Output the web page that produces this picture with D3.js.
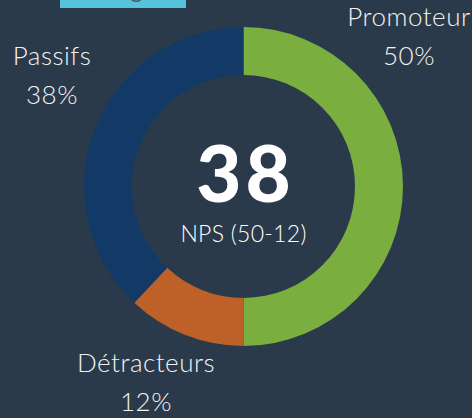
<!DOCTYPE html>
<html lang="en">
<head>
<meta charset="utf-8" />
<title>NPS</title>
<style>
	* {margin: 0; padding: 0;}
	body {background: #2b3a4a; overflow: hidden;}
	text {font-family: Lato, "Open Sans", sans-serif;}
</style>
<script src="https://cdn.jsdelivr.net/npm/d3@7"></script>
</head>
<body>
<div id="viz"></div>
<script>

var categories = ["Promoteur", "Détracteurs", "Passifs"];
var values = [50, 12, 38];
var colors = ["#7aae3f", "#bd6129", "#133a66"];
var npsScore = 38;
var npsLabel = "NPS (50-12)";

var w = 472, h = 418;
var cx = 243.5, cy = 186.5;

var svg = d3.select("#viz").append("svg").attr("width", w).attr("height", h);

svg.append("rect").attr("width", w).attr("height", h).style("fill", "#2b3a4a");

// title box, mostly cut off at the top
svg.append("rect")
	.attr("x", 60).attr("y", -30).attr("width", 126).attr("height", 38)
	.style("fill", "#56c3da");
svg.append("text")
	.attr("x", 123).attr("y", -2)
	.attr("text-anchor", "middle")
	.style("font-size", "24px")
	.style("fill", "#4d5e70")
	.text("Usage");

var pie = d3.pie().sort(null).value(function(d){return d;});
var arc = d3.arc().innerRadius(111.5).outerRadius(159.5);

var g = svg.append("g").attr("transform", "translate(" + cx + "," + cy + ")");

g.selectAll("path")
	.data(pie(values))
	.enter()
	.append("path")
	.attr("d", arc)
	.style("fill", function(d, i){return colors[i];});

// label placement (hand tuned like the original)
var labelPos = {
	"Promoteur": [409, 26],
	"Détracteurs": [146, 372],
	"Passifs": [52, 65]
};

categories.forEach(function(c, i){
	var p = labelPos[c];
	var t = svg.append("text")
		.attr("text-anchor", "middle")
		.style("font-size", "26px")
		.style("font-weight", 300)
		.style("letter-spacing", "0.5px")
		.style("fill", "#f2f2f2");
	t.append("tspan").attr("x", p[0]).attr("y", p[1]).text(c);
	t.append("tspan").attr("x", p[0]).attr("y", p[1] + 39).text(values[i] + "%");
});

svg.append("text")
	.attr("x", cx + 2).attr("y", 202)
	.attr("text-anchor", "middle")
	.style("font-size", "78px")
	.style("font-weight", 900)
	.style("letter-spacing", "4px")
	.style("fill", "#ffffff")
	.text(npsScore);

svg.append("text")
	.attr("x", cx).attr("y", 242)
	.attr("text-anchor", "middle")
	.style("font-size", "23px")
	.style("font-weight", 300)
	.style("letter-spacing", "0.3px")
	.style("fill", "#ffffff")
	.text(npsLabel);
</script>
</body>
</html>
